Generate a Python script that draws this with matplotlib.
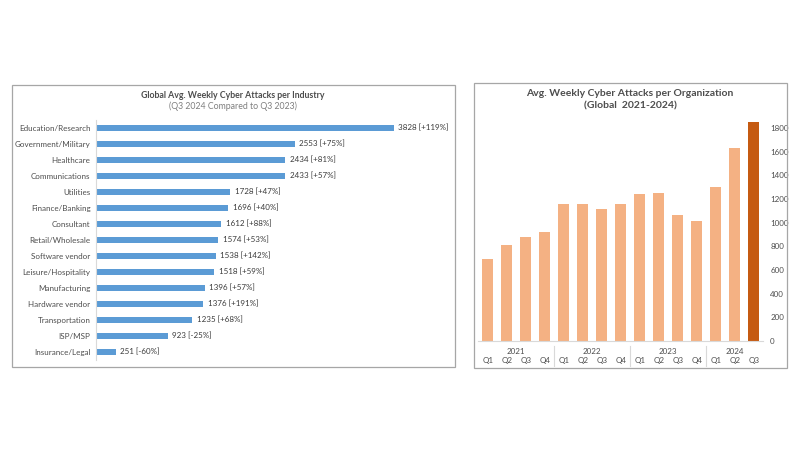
import matplotlib.pyplot as plt
from matplotlib.patches import Rectangle
from matplotlib.transforms import blended_transform_factory

plt.rcParams['font.family'] = ['Lato', 'DejaVu Sans']

industries = ['Education/Research', 'Government/Military', 'Healthcare', 'Communications',
              'Utilities', 'Finance/Banking', 'Consultant', 'Retail/Wholesale',
              'Software vendor', 'Leisure/Hospitality', 'Manufacturing', 'Hardware vendor',
              'Transportation', 'ISP/MSP', 'Insurance/Legal']
attacks = [3828, 2553, 2434, 2433, 1728, 1696, 1612, 1574, 1538, 1518, 1396, 1376, 1235, 923, 251]
changes = ['+119%', '+75%', '+81%', '+57%', '+47%', '+40%', '+88%', '+53%',
           '+142%', '+59%', '+57%', '+191%', '+68%', '-25%', '-60%']

years = ['2021', '2022', '2023', '2024']
quarters = ['Q1', 'Q2', 'Q3', 'Q4', 'Q1', 'Q2', 'Q3', 'Q4', 'Q1', 'Q2', 'Q3', 'Q4', 'Q1', 'Q2', 'Q3']
weekly = [695, 813, 877, 922, 1153, 1159, 1111, 1161, 1243, 1251, 1066, 1015, 1302, 1631, 1848]

TXT = '#4d4d4d'
fig = plt.figure(figsize=(8, 4.5), dpi=100)

def px(x, y, w, h):
    return [x / 800, 1 - (y + h) / 450, w / 800, h / 450]

# panel frames
for r in (px(12, 85, 443, 282), px(474, 83, 313, 285)):
    fig.add_artist(Rectangle((r[0], r[1]), r[2], r[3], transform=fig.transFigure,
                             fill=False, edgecolor='#a6a6a6', lw=0.9))

# left: industries
ax = fig.add_axes(px(96, 119.7, 350, 240.3))
ypos = list(range(len(industries)))
ax.barh(ypos, attacks, height=0.36, color='#5b9bd5')
ax.set_ylim(len(industries) - 0.5, -0.5)
ax.set_xlim(0, 4500)
ax.set_yticks(ypos)
ax.set_yticklabels(industries, fontsize=5.8, color=TXT)
ax.tick_params(axis='y', length=0, pad=4)
ax.set_xticks([])
for s in ('top', 'right', 'bottom'):
    ax.spines[s].set_visible(False)
ax.spines['left'].set_color('#d9d9d9')
for i, (v, c) in enumerate(zip(attacks, changes)):
    ax.text(v + 60, i, f'{v} [{c}]', va='center', ha='left', fontsize=5.8, color='#3a3a3a')
fig.text(233 / 800, 1 - 95 / 450, 'Global Avg. Weekly Cyber Attacks per Industry',
         ha='center', va='center', fontsize=6.3, fontweight='bold', color=TXT)
fig.text(233 / 800, 1 - 106 / 450, '(Q3 2024 Compared to Q3 2023)',
         ha='center', va='center', fontsize=6.3, color='#7f7f7f')

# right: per organization
ax2 = fig.add_axes(px(478.2, 116, 285, 225))
xs = list(range(len(weekly)))
colors = ['#f4b183'] * (len(weekly) - 1) + ['#c55a11']
ax2.bar(xs, weekly, width=0.56, color=colors)
ax2.set_xlim(-0.5, len(weekly) - 0.5)
ax2.set_ylim(0, 1900)
ax2.set_yticks(range(0, 1801, 200))
ax2.yaxis.tick_right()
ax2.tick_params(axis='y', length=0, labelsize=5.8, labelcolor=TXT, pad=5)
ax2.set_xticks([])
for s in ('top', 'right', 'left'):
    ax2.spines[s].set_visible(False)
ax2.spines['bottom'].set_color('#d9d9d9')
trans = blended_transform_factory(ax2.transData, fig.transFigure)
for i, q in enumerate(quarters):
    ax2.text(i, 1 - 361 / 450, q, transform=trans, ha='center', va='center',
             fontsize=5.8, color=TXT)
for k, y in enumerate(years):
    idx = [i for i in range(len(quarters)) if i // 4 == k]
    ax2.text(sum(idx) / len(idx), 1 - 352 / 450, y, transform=trans, ha='center',
             va='center', fontsize=5.8, color=TXT)
    if k > 0:
        ax2.plot([k * 4 - 0.5] * 2, [1 - 346 / 450, 1 - 366 / 450], transform=trans,
                 color='#d9d9d9', lw=0.8, clip_on=False)
fig.text(630 / 800, 1 - 93 / 450, 'Avg. Weekly Cyber Attacks per Organization',
         ha='center', va='center', fontsize=7.5, fontweight='bold', color=TXT)
fig.text(630 / 800, 1 - 106 / 450, '(Global  2021-2024)',
         ha='center', va='center', fontsize=7.5, fontweight='bold', color=TXT)

fig.savefig('out.png', dpi=100, facecolor='white')
